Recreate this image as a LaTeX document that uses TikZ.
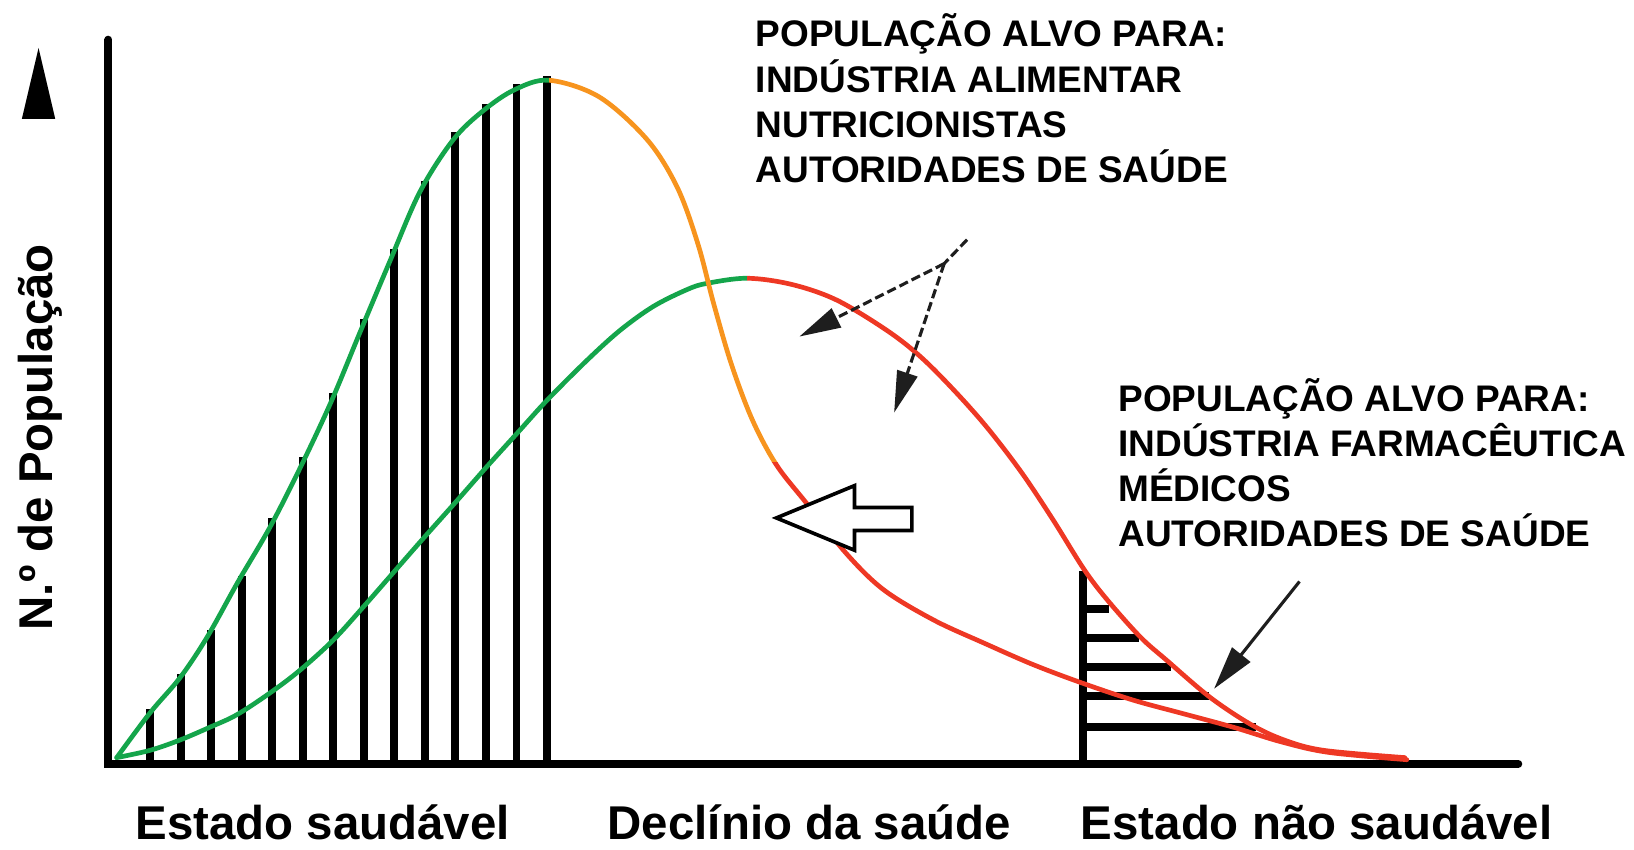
\documentclass[tikz,border=0pt]{standalone}
\usepackage{fontspec}
\setmainfont{Liberation Sans}
\usetikzlibrary{arrows.meta}
\definecolor{cgreen}{RGB}{20,165,75}
\definecolor{corange}{RGB}{247,148,30}
\definecolor{cred}{RGB}{238,56,36}
\definecolor{cdark}{RGB}{30,30,30}
\tikzset{
  axisline/.style={line width=7.5pt,black,line cap=round,line join=miter},
  hatchline/.style={line width=7.5pt,black},
  curveline/.style={line width=4.5pt,line cap=round},
  ptr/.style={line width=3pt,cdark,-{Triangle[length=40pt,width=20pt]}},
  bigptr/.style={line width=3pt,cdark,-{Triangle[length=42pt,width=22pt]}},
  dashptr/.style={ptr,dash pattern=on 9pt off 4pt},
  hollow/.style={line width=3.5pt,black,fill=white,line join=miter},
  lbl/.style={inner sep=0pt,anchor=base west,font=\bfseries\fontsize{35.5}{40}\selectfont},
  biglbl/.style={inner sep=0pt,anchor=base west,font=\bfseries\fontsize{45.5}{50}\selectfont},
  curveA/.style={insert path={plot[smooth,tension=0.55] coordinates {
    (112,727) (144,684) (173,650) (199,611) (228,559) (259,506) (289,447)
    (318,385) (345,320) (374,251) (403,184) (435,134) (464,106) (494,86)
    (527,77) (575,93) (621,134) (650,180) (670,235) (685,292) (702,350)
    (722,403) (745,446) (774,483) (812,531) (848,566) (896,595) (944,617)
    (992,638) (1040,656) (1088,672) (1136,685) (1184,698) (1230,712)
    (1275,722) (1350,729)}}},
  curveB/.style={insert path={plot[smooth,tension=0.55] coordinates {
    (112,727) (144,720) (173,710) (201,698) (227,686) (259,665) (288,643)
    (320,614) (349,582) (377,550) (405,518) (438,481) (467,448) (496,416)
    (525,384) (563,346) (595,317) (627,294) (659,278) (678,272) (717,267)
    (760,273) (803,288) (851,317) (883,342) (915,374) (947,410) (980,453)
    (1010,498) (1040,546) (1062,575) (1094,611) (1120,634) (1161,669)
    (1200,695) (1232,710) (1270,720) (1348,727)}}}
}
\begin{document}
\begin{tikzpicture}[x=1pt,y=-1pt]
\useasboundingbox (0,0) rectangle (1568,815);

% hatch lines under the tall curve
\foreach \i/\t in {0/680,1/647,2/605,3/553,4/497,5/439,6/377,7/306,8/239,9/174,10/127,11/100,12/81,13/73}
  \draw[hatchline] ({144+29.3*\i},731) -- ({144+29.3*\i},\t);

% hatch lines in the right region
\coordinate (HV) at (1039,733);
\draw[hatchline] (HV) -- (1039,548);
\foreach \y/\e in {584/1064,612/1093,640/1124,668/1160,698/1205}
  \draw[hatchline] (1039,\y) -- (\e,\y);

% axes
\coordinate (Ytop) at (104,38);
\coordinate (O) at (104,733);
\coordinate (Xend) at (1457,733);
\draw[axisline] (Ytop) -- (O) -- (Xend);

% small arrow at top left
\fill[black] (37,46) -- (53,114) -- (21,114) -- cycle;

% curve B (wide): green then red
\begin{scope}
  \clip (0,0) rectangle (717,800);
  \draw[curveline,cgreen,curveB];
\end{scope}
\begin{scope}
  \clip (717,0) rectangle (1568,800);
  \draw[curveline,cred,curveB];
\end{scope}

% curve A (tall): green, orange, red
\begin{scope}
  \clip (0,0) rectangle (527,800);
  \draw[curveline,cgreen,curveA];
\end{scope}
\begin{scope}
  \clip (527,0) rectangle (1568,444);
  \draw[curveline,corange,curveA];
\end{scope}
\begin{scope}
  \clip (527,444) rectangle (1568,800);
  \draw[curveline,cred,curveA];
\end{scope}

% hollow arrow
\draw[hollow] (745,497) -- (820,466) -- (820,487) -- (875,487) -- (875,509)
  -- (820,509) -- (820,528) -- cycle;

% dashed pointer arrows
\coordinate (S) at (928,230);
\coordinate (J) at (906,253);
\coordinate (T1) at (767,323);
\coordinate (T2) at (858,396);
\draw[line width=3pt,cdark,dash pattern=on 9pt off 4pt] (S) -- (J);
\draw[dashptr] (J) -- (T1);
\draw[dashptr] (J) -- (T2);

% pointer to hatched region
\coordinate (R1) at (1247,558);
\coordinate (R2) at (1165,661);
\draw[bigptr] (R1) -- (R2);

% text blocks
\node[lbl] (t1) at (725,45) {POPULAÇÃO ALVO PARA:};
\node[lbl] (t2) at (725,88.3) {INDÚSTRIA ALIMENTAR};
\node[lbl] (t3) at (725,131.6) {NUTRICIONISTAS};
\node[lbl] (t4) at (725,175) {AUTORIDADES DE SAÚDE};

\node[lbl] (u1) at (1073,395) {POPULAÇÃO ALVO PARA:};
\node[lbl] (u2) at (1073,438.5) {INDÚSTRIA FARMACÊUTICA};
\node[lbl] (u3) at (1073,481) {MÉDICOS};
\node[lbl] (u4) at (1073,524) {AUTORIDADES DE SAÚDE};

\node[biglbl] (x1) at (130,806) {Estado saudável};
\node[biglbl] (x2) at (583,806) {Declínio da saúde};
\node[biglbl] (x3) at (1037,806) {Estado não saudável};

\node[biglbl,rotate=90] (ylab) at (50,605) {N.º de População};
\end{tikzpicture}
\end{document}
